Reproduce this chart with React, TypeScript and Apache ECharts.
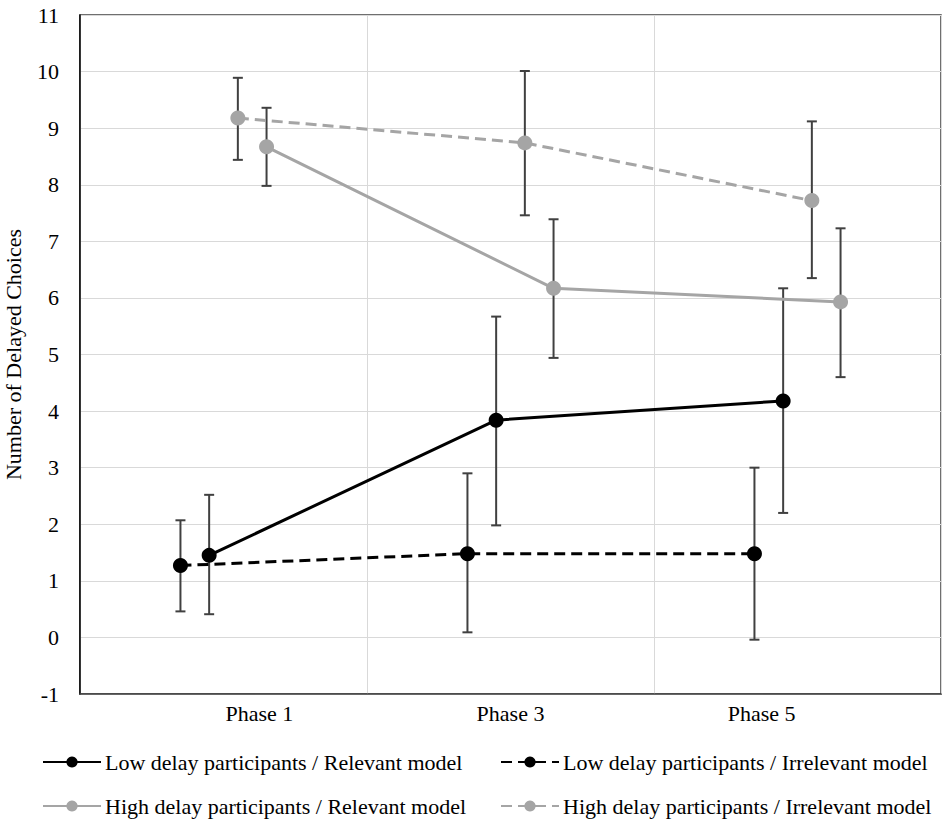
import React, { useEffect, useRef } from "react";
import * as echarts from "echarts";

const phaseLabels = ["Phase 1", "Phase 3", "Phase 5"];
const phaseLabelPositions = [0.625, 1.5, 2.375];
const phaseCenters = [0.5, 1.5, 2.5];

const seriesNames = [
  "Low delay participants / Relevant model",
  "Low delay participants / Irrelevant model",
  "High delay participants / Relevant model",
  "High delay participants / Irrelevant model",
];

const lowRelevant = [1.45, 3.84, 4.18];
const lowRelevantLow = [0.41, 1.98, 2.2];
const lowRelevantHigh = [2.52, 5.67, 6.17];

const lowIrrelevant = [1.27, 1.48, 1.48];
const lowIrrelevantLow = [0.46, 0.09, -0.04];
const lowIrrelevantHigh = [2.07, 2.9, 3.0];

const highRelevant = [8.67, 6.17, 5.93];
const highRelevantLow = [7.98, 4.94, 4.6];
const highRelevantHigh = [9.36, 7.39, 7.23];

const highIrrelevant = [9.18, 8.74, 7.72];
const highIrrelevantLow = [8.44, 7.46, 6.35];
const highIrrelevantHigh = [9.89, 10.01, 9.12];

const offsets = [-0.05, -0.15, 0.15, 0.05];

const FONT = "'Liberation Serif', 'Times New Roman', serif";

export default function App() {
  const ref = useRef<HTMLDivElement>(null);

  useEffect(() => {
    if (!ref.current) return;
    const chart = echarts.init(ref.current, undefined, { renderer: "svg" });

    const means = [lowRelevant, lowIrrelevant, highRelevant, highIrrelevant];
    const lows = [lowRelevantLow, lowIrrelevantLow, highRelevantLow, highIrrelevantLow];
    const highs = [lowRelevantHigh, lowIrrelevantHigh, highRelevantHigh, highIrrelevantHigh];
    const colors = ["#000000", "#000000", "#a5a5a5", "#a5a5a5"];
    const dashed = [false, true, false, true];

    const lineSeries = means.map((vals, i) => ({
      name: seriesNames[i],
      type: "line",
      z: 3,
      data: vals.map((v, j) => [phaseCenters[j] + offsets[i], v]),
      symbol: "circle",
      symbolSize: 15,
      itemStyle: { color: colors[i] },
      lineStyle: {
        color: colors[i],
        width: 3,
        type: dashed[i] ? [11, 6] : "solid",
      },
    }));

    const errData: number[][] = [];
    means.forEach((vals, i) => {
      vals.forEach((_, j) => {
        errData.push([phaseCenters[j] + offsets[i], lows[i][j], highs[i][j]]);
      });
    });

    const errSeries = {
      type: "custom",
      z: 1,
      silent: true,
      data: errData,
      encode: { x: 0, y: [1, 2] },
      renderItem: (params: any, api: any) => {
        const x = api.value(0);
        const lo = api.coord([x, api.value(1)]);
        const hi = api.coord([x, api.value(2)]);
        const cw = 5;
        const style = { stroke: "#404040", lineWidth: 2 };
        return {
          type: "group",
          children: [
            { type: "line", shape: { x1: lo[0], y1: lo[1], x2: hi[0], y2: hi[1] }, style },
            { type: "line", shape: { x1: lo[0] - cw, y1: lo[1], x2: lo[0] + cw, y2: lo[1] }, style },
            { type: "line", shape: { x1: hi[0] - cw, y1: hi[1], x2: hi[0] + cw, y2: hi[1] }, style },
          ],
        };
      },
    };

    const legendPos = [
      { left: 42, top: 751 },
      { left: 500, top: 751 },
      { left: 42, top: 795 },
      { left: 500, top: 795 },
    ];

    chart.setOption({
      animation: false,
      textStyle: { fontFamily: FONT },
      grid: {
        left: 80,
        right: 9,
        top: 15,
        bottom: 135,
        outerBoundsMode: "none",
        containLabel: false,
        show: true,
        borderColor: "#404040",
        borderWidth: 1.5,
      },
      xAxis: {
        type: "value",
        min: 0,
        max: 3,
        interval: 1,
        axisLine: { show: true, onZero: false, lineStyle: { color: "#404040", width: 1.5 } },
        axisTick: { show: false },
        splitLine: { show: true, lineStyle: { color: "#d9d9d9", width: 1 } },
        axisLabel: {
          customValues: phaseLabelPositions,
          formatter: (v: number) => {
            const idx = phaseLabelPositions.findIndex((p) => Math.abs(p - v) < 1e-6);
            return idx >= 0 ? phaseLabels[idx] : "";
          },
          color: "#000",
          fontSize: 22,
          fontFamily: FONT,
          margin: 8,
        },
      },
      yAxis: {
        type: "value",
        min: -1,
        max: 11,
        interval: 1,
        name: "Number of Delayed Choices",
        nameLocation: "middle",
        nameRotate: 90,
        nameGap: 56,
        nameTextStyle: { color: "#000", fontSize: 22, fontFamily: FONT },
        axisLine: { show: true, onZero: false, lineStyle: { color: "#000", width: 1.5 } },
        axisTick: { show: false },
        splitLine: { show: true, lineStyle: { color: "#d9d9d9", width: 1 } },
        axisLabel: { color: "#000", fontSize: 22, fontFamily: FONT, margin: 21 },
      },
      legend: seriesNames.map((n, i) => ({
        data: [n],
        left: legendPos[i].left,
        top: legendPos[i].top,
        itemWidth: 58,
        itemHeight: 14,
        itemGap: 0,
        padding: 0,
        selectedMode: false,
        textStyle: { color: "#000", fontSize: 22, fontFamily: FONT, padding: [0, 0, 0, -1] },
      })),
      series: [errSeries, ...lineSeries],
    });

    return () => chart.dispose();
  }, []);

  return (
    <div
      ref={ref}
      style={{ position: "absolute", left: 0, top: 0, width: 950, height: 829 }}
    />
  );
}
